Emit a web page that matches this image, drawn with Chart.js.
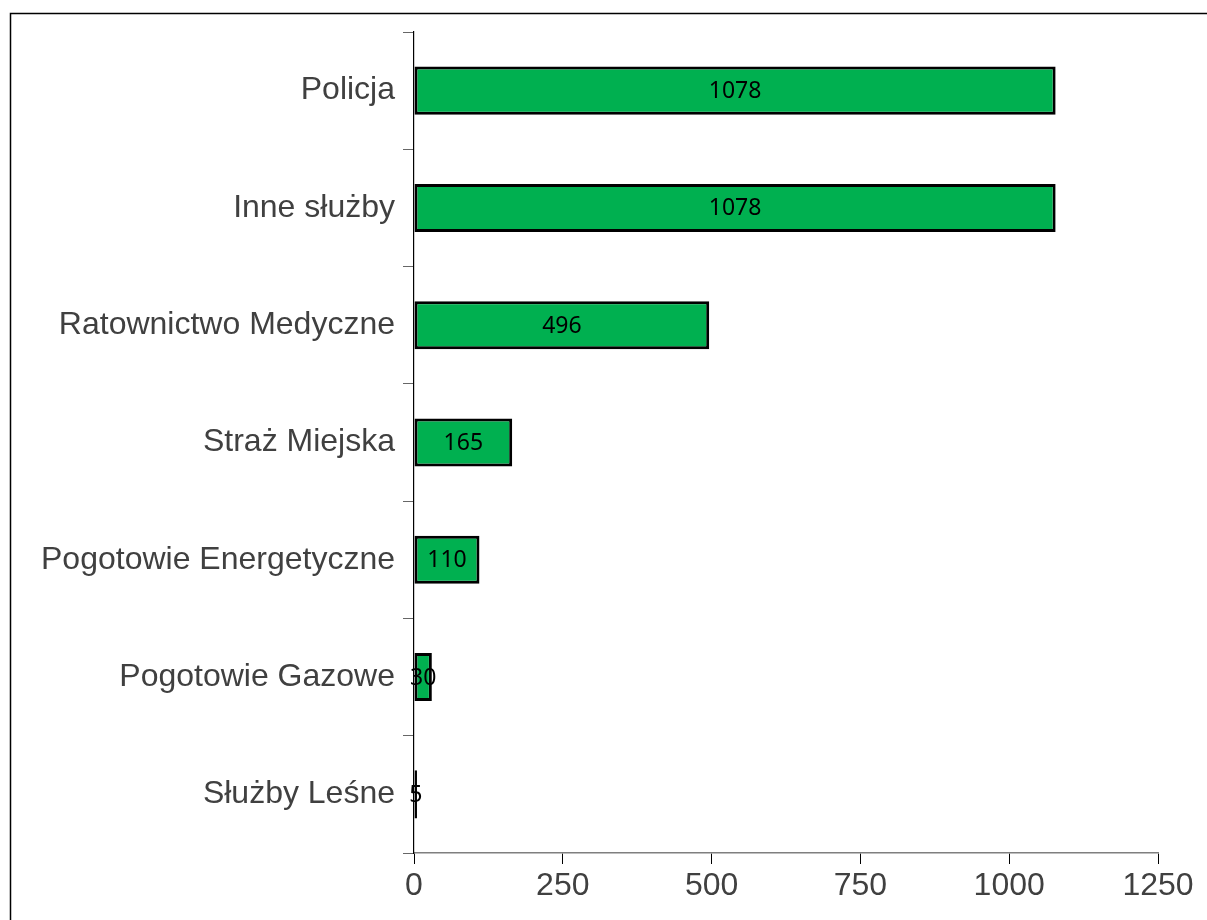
<!DOCTYPE html>
<html>
<head>
<meta charset="utf-8">
<script src="https://cdn.jsdelivr.net/npm/chart.js@4/dist/chart.umd.min.js"></script>
<style>
  body { margin: 0; background: #fff; }
  canvas { display: block; }
</style>
</head>
<body>
<canvas id="myChart" width="1207" height="920"></canvas>
<script>
// DATA
let categories = ['Policja', 'Inne służby', 'Ratownictwo Medyczne', 'Straż Miejska',
  'Pogotowie Energetyczne', 'Pogotowie Gazowe', 'Służby Leśne'];
let values = [1078, 1078, 496, 165, 110, 30, 5];
let xTicks = [0, 250, 500, 750, 1000, 1250];

// outer frame (runs off the right and bottom edge like the original)
const framePlugin = {
  id: 'frame',
  beforeDraw(chart) {
    const ctx = chart.ctx;
    ctx.save();
    ctx.fillStyle = '#fff';
    ctx.fillRect(0, 0, chart.width, chart.height);
    ctx.strokeStyle = '#000';
    ctx.lineWidth = 1.5;
    ctx.strokeRect(10.5, 13.5, 1400, 1000);
    ctx.restore();
  }
};

// value labels in the middle of each bar
const barLabels = {
  id: 'barLabels',
  afterDatasetsDraw(chart) {
    const ctx = chart.ctx;
    const meta = chart.getDatasetMeta(0);
    ctx.save();
    ctx.font = '23px "Noto Sans", "Open Sans", sans-serif';
    ctx.fillStyle = '#000';
    ctx.textAlign = 'center';
    ctx.textBaseline = 'middle';
    meta.data.forEach((bar, i) => {
      const p = bar.getProps(['x', 'y', 'base'], true);
      ctx.fillText(String(values[i]), (p.x + p.base) / 2, p.y + 1);
    });
    ctx.restore();
  }
};

let myChart = document.getElementById('myChart').getContext('2d');
new Chart(myChart, {
  type: 'bar',
  data: {
    labels: categories,
    datasets: [{
      data: values,
      backgroundColor: '#00B050',
      borderColor: '#000',
      borderWidth: 3,
      borderSkipped: false,
      barPercentage: 0.41,
      categoryPercentage: 1
    }]
  },
  options: {
    indexAxis: 'y',
    responsive: false,
    devicePixelRatio: 1,
    animation: false,
    layout: { padding: { left: 0, top: 32, right: 49, bottom: 0 } },
    plugins: {
      legend: { display: false },
      tooltip: { enabled: false }
    },
    scales: {
      x: {
        min: 0,
        max: 1250,
        afterBuildTicks: (s) => { s.ticks = xTicks.map(v => ({ value: v })); },
        afterFit: (s) => { s.height = 67; },
        border: { color: '#7f7f7f', width: 1.5 },
        grid: { drawOnChartArea: false, tickLength: 11, tickColor: '#000', tickWidth: 1 },
        ticks: {
          padding: 3,
          color: '#404040',
          callback: (v) => String(v),
          font: { family: '"Liberation Sans", Arial, sans-serif', size: 32 }
        }
      },
      y: {
        afterFit: (s) => { s.width = 414; },
        border: { color: '#000', width: 1.2 },
        grid: { drawOnChartArea: false, offset: true, tickLength: 11, tickColor: '#666', tickWidth: 1 },
        ticks: {
          padding: 8,
          color: '#404040',
          font: { family: '"Liberation Sans", Arial, sans-serif', size: 32 }
        }
      }
    }
  },
  plugins: [framePlugin, barLabels]
});
</script>
</body>
</html>
